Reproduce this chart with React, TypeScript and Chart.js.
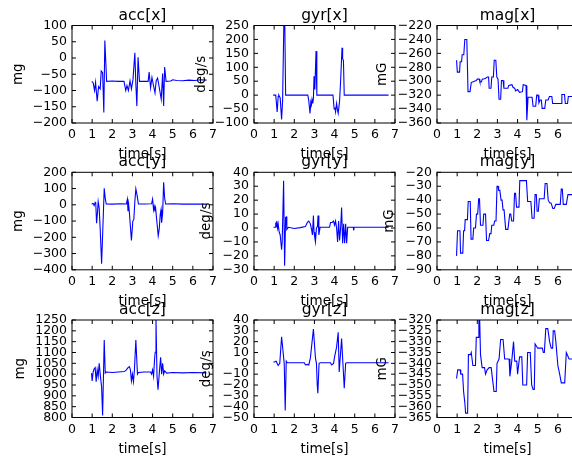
import { useEffect, useRef } from "react";
import { Chart, registerables } from "chart.js";
Chart.register(...registerables);

type Pt = [number, number];

const FONT = "'DejaVu Sans', sans-serif";

// ---- data: [time s, value] ----
const accX: Pt[] = [[0.98,-72],[1.05,-76],[1.12,-100],[1.17,-75],[1.25,-133],[1.32,-88],[1.4,-95],[1.45,-40],[1.52,-45],[1.58,-168],[1.63,54],[1.72,-72],[2.0,-71],[2.3,-72],[2.58,-72],[2.67,-100],[2.73,-85],[2.8,-100],[2.88,-70],[2.95,-95],[3.03,-65],[3.12,16],[3.17,-80],[3.22,-148],[3.28,2],[3.35,-72],[3.6,-72],[3.78,-72],[3.83,-43],[3.9,-92],[3.97,-60],[4.03,-80],[4.12,-107],[4.18,-70],[4.25,-62],[4.33,-90],[4.43,-127],[4.5,-48],[4.55,-148],[4.6,-28],[4.67,-72],[4.9,-71],[5.0,-67],[5.2,-69],[5.5,-70],[5.8,-68],[6.1,-69],[6.4,-67],[6.68,-68]];
const gyrX: Pt[] = [[0.95,0],[1.08,0],[1.15,-60],[1.2,-5],[1.23,0],[1.3,-10],[1.37,-87],[1.42,-20],[1.48,250],[1.53,250],[1.57,0],[2.67,0],[2.72,-20],[2.78,-66],[2.82,-25],[2.85,-35],[2.88,-15],[2.92,-30],[2.95,-10],[2.98,68],[3.02,20],[3.08,158],[3.12,0],[3.92,0],[3.98,-50],[4.02,-45],[4.05,-60],[4.1,-30],[4.15,-55],[4.18,-65],[4.25,-20],[4.3,50],[4.37,170],[4.4,130],[4.44,125],[4.48,0],[6.68,0]];
const magX: Pt[] = [[0.97,-270],[1.01,-287],[1.12,-287],[1.15,-272],[1.22,-272],[1.25,-262],[1.33,-262],[1.38,-240],[1.48,-240],[1.54,-315],[1.64,-315],[1.7,-302],[1.85,-300],[1.95,-299],[2.0,-297],[2.1,-297],[2.13,-301],[2.2,-301],[2.25,-297],[2.4,-296],[2.5,-294],[2.56,-294],[2.59,-310],[2.68,-310],[2.72,-294],[2.8,-294],[2.84,-270],[2.92,-270],[2.97,-294],[3.03,-297],[3.08,-326],[3.16,-326],[3.2,-299],[3.28,-299],[3.32,-310],[3.52,-310],[3.56,-306],[3.72,-305],[3.78,-309],[3.86,-310],[3.9,-314],[4.0,-312],[4.1,-316],[4.24,-315],[4.28,-305],[4.42,-306],[4.46,-356],[4.52,-323],[4.72,-323],[4.77,-336],[4.9,-336],[4.95,-320],[5.02,-320],[5.06,-331],[5.12,-327],[5.18,-327],[5.22,-339],[5.35,-339],[5.4,-327],[5.52,-327],[5.58,-322],[5.7,-322],[5.74,-332],[6.16,-332],[6.2,-319],[6.33,-319],[6.37,-332],[6.48,-332],[6.52,-322],[6.72,-322]];
const accY: Pt[] = [[0.97,5],[1.05,8],[1.1,-5],[1.15,15],[1.18,10],[1.22,-113],[1.27,-40],[1.3,20],[1.35,-20],[1.4,-150],[1.47,-363],[1.53,-150],[1.6,102],[1.65,40],[1.7,5],[2.0,4],[2.4,6],[2.7,5],[2.75,34],[2.78,-40],[2.8,20],[2.85,-50],[2.95,-219],[3.02,-100],[3.07,-90],[3.12,20],[3.17,98],[3.23,60],[3.3,5],[3.6,5],[3.95,6],[4.0,35],[4.05,-30],[4.08,-10],[4.12,-40],[4.15,-20],[4.18,-60],[4.28,-191],[4.33,-150],[4.38,-60],[4.42,-30],[4.45,-110],[4.5,-50],[4.55,138],[4.6,40],[4.65,5],[5.0,6],[5.5,4],[6.0,5],[6.68,4]];
const gyrY: Pt[] = [[0.97,0.5],[1.05,0.5],[1.08,4],[1.1,1],[1.13,5],[1.17,0],[1.2,3],[1.25,-3],[1.3,-5],[1.37,-15.6],[1.4,-10],[1.47,34],[1.52,-27],[1.57,7.6],[1.6,8],[1.63,-1],[1.7,0.5],[2.0,-0.3],[2.3,0.3],[2.55,1],[2.65,4],[2.72,5],[2.8,3],[2.87,-2],[2.9,-5],[2.95,9],[2.98,-3],[3.02,-7],[3.05,-10],[3.1,0],[3.15,1],[3.18,9],[3.22,-5],[3.28,0.5],[3.75,0.5],[3.8,4],[3.88,4],[3.95,5],[4.0,2],[4.05,5],[4.1,0],[4.15,-10],[4.2,5],[4.25,-9],[4.3,0],[4.35,14.7],[4.4,-11],[4.45,3],[4.5,-11],[4.55,3],[4.6,-11],[4.65,0.5],[4.93,0.5],[4.95,-1.8],[4.97,0.5],[5.5,0.5],[6.68,0.5]];
const magY: Pt[] = [[0.97,-80],[1.02,-62],[1.14,-62],[1.17,-78],[1.28,-78],[1.32,-62],[1.37,-62],[1.4,-54],[1.51,-54],[1.55,-41],[1.65,-41],[1.69,-68],[1.78,-68],[1.82,-60],[1.91,-60],[1.96,-50],[2.02,-50],[2.07,-39],[2.11,-39],[2.16,-58],[2.28,-58],[2.32,-50],[2.41,-50],[2.46,-69],[2.56,-69],[2.62,-64],[2.68,-64],[2.72,-58],[2.82,-58],[2.86,-55],[2.93,-55],[2.98,-30],[3.03,-30],[3.06,-33],[3.12,-33],[3.18,-40],[3.23,-40],[3.28,-47],[3.33,-47],[3.41,-61],[3.52,-61],[3.61,-50],[3.66,-50],[3.71,-55],[3.8,-55],[3.85,-35],[3.9,-35],[3.95,-45],[4.07,-45],[4.11,-26],[4.44,-26],[4.5,-41],[4.66,-41],[4.72,-53],[4.82,-53],[4.87,-36],[4.93,-36],[4.97,-48],[5.03,-48],[5.08,-39],[5.32,-39],[5.37,-28],[5.46,-28],[5.52,-40],[5.6,-42],[5.66,-42],[5.75,-46],[5.82,-46],[5.9,-43],[6.12,-43],[6.17,-32],[6.22,-32],[6.27,-43],[6.42,-43],[6.5,-36],[6.72,-36]];
const accZ: Pt[] = [[0.97,1005],[1.0,969],[1.05,1010],[1.1,1025],[1.15,1030],[1.2,965],[1.25,1020],[1.3,990],[1.35,1050],[1.4,1000],[1.47,940],[1.52,809],[1.6,1158],[1.65,1005],[1.7,1010],[2.0,1008],[2.3,1010],[2.6,1012],[2.7,1020],[2.78,1030],[2.85,1035],[2.9,1020],[2.95,969],[3.0,1000],[3.05,965],[3.1,1020],[3.17,1158],[3.25,1000],[3.3,1008],[3.6,1010],[3.9,1010],[3.95,1000],[4.0,1020],[4.05,990],[4.1,1070],[4.13,1101],[4.17,1250],[4.22,990],[4.27,928],[4.33,1000],[4.4,1078],[4.45,1000],[4.5,1050],[4.55,1000],[4.6,1015],[4.7,1005],[5.0,1008],[5.5,1006],[6.0,1008],[6.68,1006]];
const gyrZ: Pt[] = [[0.97,1],[1.1,2],[1.2,-2],[1.28,0],[1.37,24.6],[1.5,0],[1.55,-43.6],[1.6,2],[1.65,0.5],[2.5,0.5],[2.55,-1.5],[2.65,-1],[2.72,-1.5],[2.8,5],[2.95,31.7],[3.05,5],[3.1,0],[3.14,-20],[3.17,-27.6],[3.23,0],[3.3,0.5],[3.8,0.5],[3.85,-1.5],[3.95,0],[4.0,6],[4.1,15],[4.18,28.6],[4.23,-8],[4.3,10],[4.35,23],[4.4,5],[4.48,-23],[4.55,0],[4.6,0.5],[6.68,0.5]];
const magZ: Pt[] = [[0.97,-347],[1.03,-343],[1.15,-343],[1.18,-345],[1.27,-345],[1.32,-353],[1.38,-358],[1.42,-363],[1.52,-363],[1.56,-336],[1.66,-336],[1.7,-335],[1.78,-341],[1.91,-341],[1.95,-328],[2.04,-328],[2.08,-320],[2.12,-320],[2.16,-336],[2.24,-342],[2.36,-342],[2.41,-345],[2.49,-343],[2.59,-342],[2.69,-342],[2.74,-346],[2.83,-353],[2.94,-353],[2.98,-340],[3.08,-338],[3.16,-329],[3.28,-329],[3.36,-338],[3.58,-338],[3.62,-346],[3.71,-339],[3.8,-330],[3.86,-339],[3.96,-339],[4.0,-345],[4.1,-337],[4.21,-337],[4.26,-350],[4.45,-350],[4.5,-335],[4.63,-335],[4.7,-350],[4.77,-352],[4.83,-352],[4.87,-331],[5.0,-333],[5.23,-333],[5.28,-335],[5.33,-335],[5.4,-324],[5.5,-324],[5.59,-330],[5.67,-333],[5.74,-333],[5.77,-325],[5.84,-325],[5.9,-330],[6.0,-341],[6.09,-345],[6.17,-349],[6.34,-349],[6.42,-335],[6.56,-338],[6.72,-338]];

const titles = ["acc[x]", "gyr[x]", "mag[x]", "acc[y]", "gyr[y]", "mag[y]", "acc[z]", "gyr[z]", "mag[z]"];
const units = ["mg", "deg/s", "mG"];
const series = [accX, gyrX, magX, accY, gyrY, magY, accZ, gyrZ, magZ];
const yMins = [-200, -100, -360, -400, -30, -90, 800, -50, -365];
const yMaxs = [100, 250, -220, 200, 40, -20, 1250, 40, -320];
const ySteps = [50, 50, 20, 100, 10, 10, 50, 10, 5];
const xTicksMin = 0, xTicksMax = 7, xStep = 1;
const xLabel = "time[s]";

// ---- layout (style) ----
const COL_X = [72, 254, 437];
const ROW_Y = [25.5, 172.3, 320];
const YLABEL_OFF = [53.5, 53, 55, 53.5, 48, 48, 52, 48, 55];
const PW = 141, PH = 97.5;
const CW = 600, CH = 480;
const WY = 72, HX = 45;
const TICK_PX = 12.5, LABEL_PX = 13.5, TITLE_PX = 15.5;

const frame = {
  id: "mplFrame",
  afterDraw(chart: any) {
    const { ctx, chartArea: a, scales } = chart;
    ctx.save();
    ctx.strokeStyle = "#000";
    ctx.lineWidth = 1;
    ctx.beginPath();
    const L = 4;
    for (const t of scales.x.ticks) {
      const px = scales.x.getPixelForValue(t.value);
      ctx.moveTo(px, a.bottom); ctx.lineTo(px, a.bottom - L);
      ctx.moveTo(px, a.top); ctx.lineTo(px, a.top + L);
    }
    for (const t of scales.y.ticks) {
      const py = scales.y.getPixelForValue(t.value);
      ctx.moveTo(a.left, py); ctx.lineTo(a.left + L, py);
      ctx.moveTo(a.right, py); ctx.lineTo(a.right - L, py);
    }
    ctx.stroke();
    ctx.strokeRect(a.left, a.top, a.right - a.left, a.bottom - a.top);
    ctx.restore();
  },
};

const fmt = (v: any) => String(Math.round(Number(v) * 1000) / 1000).replace("-", "\u2212");

function Panel({ i }: { i: number }) {
  const ref = useRef<HTMLCanvasElement | null>(null);
  useEffect(() => {
    const row = Math.floor(i / 3), col = i % 3;
    const left = COL_X[col], top = ROW_Y[row];
    const titleLH = TITLE_PX * 1.2;
    const titlePadB = 0.7;
    const labLH = LABEL_PX * 1.2;
    const chart = new Chart(ref.current as HTMLCanvasElement, {
      type: "line",
      data: {
        datasets: [{
          data: series[i].map(([x, y]) => ({ x, y })),
          borderColor: "#0000ff",
          borderWidth: 1.1,
          pointRadius: 0,
          tension: 0,
          fill: false,
        }],
      },
      plugins: [frame],
      options: {
        animation: false,
        responsive: false,
        devicePixelRatio: 1,
        events: [],
        layout: {
          padding: {
            left: left - WY,
            right: CW - left - PW,
            top: top - titleLH - titlePadB,
            bottom: CH - top - PH - HX,
          },
        },
        plugins: {
          legend: { display: false },
          tooltip: { enabled: false },
          title: {
            display: true,
            text: titles[i],
            fullSize: false,
            color: "#000",
            font: { family: FONT, size: TITLE_PX, weight: "normal", lineHeight: 1.2 },
            padding: { top: 0, bottom: titlePadB },
          },
        },
        scales: {
          x: {
            type: "linear",
            min: xTicksMin,
            max: xTicksMax,
            grid: { display: false, drawTicks: false },
            border: { display: false },
            ticks: {
              stepSize: xStep,
              autoSkip: false,
              maxRotation: 0,
              padding: 4.5,
              color: "#000",
              font: { family: FONT, size: TICK_PX },
              callback: (v: any) => fmt(v),
            },
            title: {
              display: true,
              text: xLabel,
              color: "#000",
              font: { family: FONT, size: LABEL_PX, lineHeight: 1.2 },
              padding: { top: 0, bottom: HX - labLH / 2 - 31.5 },
            },
            afterFit: (s: any) => { s.height = HX; },
          },
          y: {
            type: "linear",
            min: yMins[i],
            max: yMaxs[i],
            grid: { display: false, drawTicks: false },
            border: { display: false },
            ticks: {
              stepSize: ySteps[i],
              autoSkip: false,
              padding: 5,
              color: "#000",
              font: { family: FONT, size: TICK_PX },
              callback: (v: any) => fmt(v),
            },
            title: {
              display: true,
              text: units[col],
              color: "#000",
              font: { family: FONT, size: LABEL_PX, lineHeight: 1.2 },
              padding: { top: WY - labLH / 2 - YLABEL_OFF[i], bottom: 0 },
            },
            afterFit: (s: any) => { s.width = WY; },
          },
        },
      } as any,
    });
    return () => chart.destroy();
  }, [i]);
  return (
    <canvas
      ref={ref}
      width={CW}
      height={CH}
      style={{ position: "absolute", left: 0, top: 0, width: CW, height: CH }}
    />
  );
}

export default function App() {
  return (
    <div
      style={{
        position: "absolute",
        left: 0,
        top: 0,
        width: 572,
        height: 459,
        overflow: "hidden",
        background: "#fff",
      }}
    >
      {titles.map((_, i) => <Panel key={i} i={i} />)}
    </div>
  );
}
